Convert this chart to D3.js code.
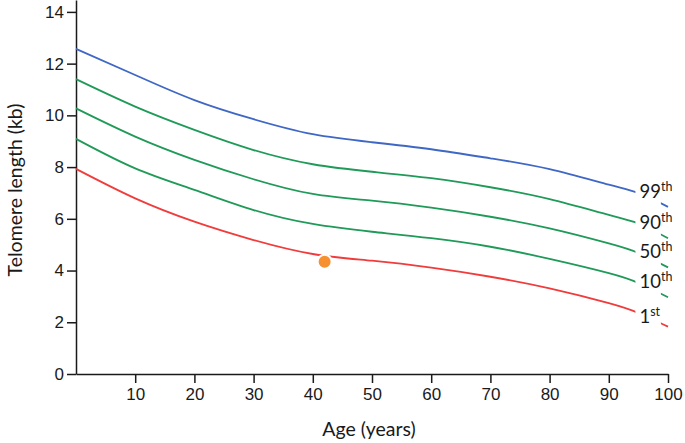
<!DOCTYPE html>
<html>
<head>
<meta charset="utf-8">
<script src="https://cdn.jsdelivr.net/npm/d3@7"></script>
<style>
	body { margin: 0; background: #fff; }
	svg { display: block; font-family: Lato, "Open Sans", sans-serif; }
	.tick text { font-size: 17px; fill: #1a1a1a; }
	.tick line, .domain { stroke: #1a1a1a; stroke-width: 1.5; }
</style>
</head>
<body>
<script>
const w = 685;
const h = 443;

// ages sampled along each percentile curve
const ages = [0, 10, 20, 30, 40, 50, 60, 70, 80, 90, 95, 100];
const p99 = [12.57, 11.56, 10.59, 9.85, 9.27, 8.96, 8.69, 8.34, 7.92, 7.32, 7.0, 6.46];
const p90 = [11.4, 10.34, 9.44, 8.66, 8.11, 7.82, 7.57, 7.22, 6.76, 6.15, 5.82, 5.25];
const p50 = [10.27, 9.18, 8.28, 7.53, 6.96, 6.7, 6.43, 6.08, 5.63, 5.05, 4.68, 4.12];
const p10 = [9.09, 7.95, 7.12, 6.34, 5.8, 5.5, 5.25, 4.92, 4.45, 3.9, 3.52, 2.97];
const p1 = [7.93, 6.79, 5.89, 5.18, 4.64, 4.38, 4.11, 3.76, 3.31, 2.74, 2.36, 1.83];

const seriesNames = ["99", "90", "50", "10", "1"];
const seriesSuffix = ["th", "th", "th", "th", "st"];
const seriesValues = [p99, p90, p50, p10, p1];
const seriesColors = ["#3f67c4", "#1f9a58", "#1f9a58", "#1f9a58", "#f03c3c"];

const xTicks = [10, 20, 30, 40, 50, 60, 70, 80, 90, 100];
const yTicks = [0, 2, 4, 6, 8, 10, 12, 14];

// the patient
const patientAge = 42;
const patientLength = 4.34;

// gap in the lines where the labels sit
const gapStart = 94.5;
const gapEnd = 98.8;

const svg = d3.select("body").append("svg").attr("width", w).attr("height", h);

const xScale = d3.scaleLinear().domain([0, 100]).range([76, 668]);
const yScale = d3.scaleLinear().domain([0, 14.46]).range([374, 0]);

// * AXES
svg.append("g")
	.attr("transform", "translate(0," + yScale(0) + ")")
	.call(d3.axisBottom(xScale).tickValues(xTicks).tickSize(9).tickSizeOuter(0).tickPadding(3))
	.call((g) => g.selectAll(".tick text").attr("dy", "0.85em"));

svg.append("g")
	.attr("transform", "translate(" + xScale(0) + ",0)")
	.call(d3.axisLeft(yScale).tickValues(yTicks).tickSize(9).tickSizeOuter(0).tickPadding(3));

svg.selectAll(".domain").attr("fill", "none");

// * CLIP (leave room for the labels)
const clip = svg.append("clipPath").attr("id", "gap");
clip.append("rect")
	.attr("x", 0)
	.attr("y", 0)
	.attr("width", xScale(gapStart))
	.attr("height", h);
clip.append("rect")
	.attr("x", xScale(gapEnd))
	.attr("y", 0)
	.attr("width", w - xScale(gapEnd))
	.attr("height", h);

// * CURVES
const line = d3
	.line()
	.x((d) => xScale(d[0]))
	.y((d) => yScale(d[1]))
	.curve(d3.curveNatural);

svg.append("g")
	.attr("clip-path", "url(#gap)")
	.selectAll("path")
	.data(seriesValues)
	.enter()
	.append("path")
	.attr("d", (vals) => line(ages.map((a, i) => [a, vals[i]])))
	.attr("fill", "none")
	.attr("stroke", (d, i) => seriesColors[i])
	.attr("stroke-width", 1.8);

// * LABELS
const labels = svg.append("g")
	.selectAll("text")
	.data(seriesNames)
	.enter()
	.append("text")
	.attr("x", xScale(gapStart) + 4)
	.attr("y", (d, i) => yScale(seriesValues[i][ages.indexOf(95)]) + (i === 4 ? 10 : 5.5))
	.attr("font-size", 18.5)
	.attr("fill", "#1a1a1a");
labels.append("tspan").text((d) => d);
labels.append("tspan")
	.attr("font-size", 12.5)
	.attr("dy", -7)
	.text((d, i) => seriesSuffix[i]);

// * PATIENT DOT
svg.append("circle")
	.attr("cx", xScale(patientAge))
	.attr("cy", yScale(patientLength))
	.attr("r", 7)
	.attr("fill", "#f7902f")
	.attr("stroke", "#fff")
	.attr("stroke-width", 2);

// * AXIS TITLES
svg.append("text")
	.attr("x", xScale(50) - 3)
	.attr("y", 436)
	.attr("text-anchor", "middle")
	.attr("font-size", 19.5)
	.attr("fill", "#1a1a1a")
	.text("Age (years)");

svg.append("text")
	.attr("transform", "translate(22," + 190 + ") rotate(-90)")
	.attr("text-anchor", "middle")
	.attr("font-size", 19.5)
	.attr("fill", "#1a1a1a")
	.text("Telomere length (kb)");
</script>
</body>
</html>
